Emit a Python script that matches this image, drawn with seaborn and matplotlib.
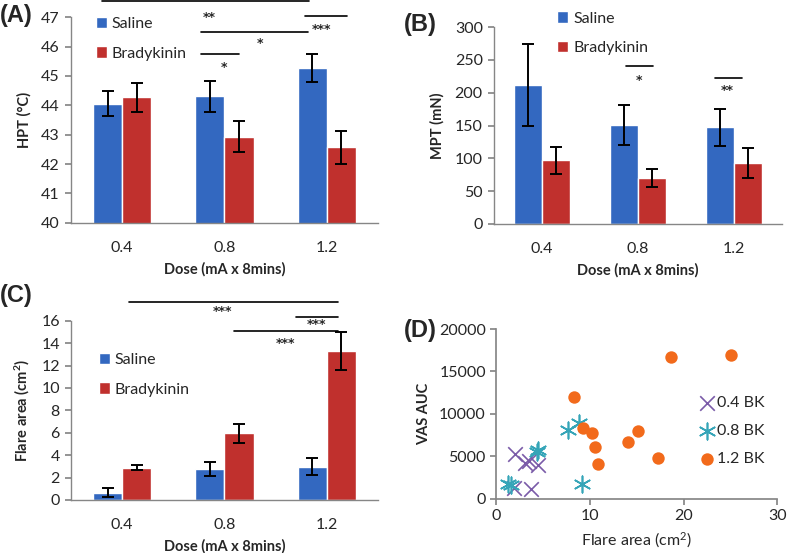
import matplotlib
matplotlib.use('Agg')
import matplotlib.pyplot as plt
import numpy as np
import pandas as pd
import seaborn as sns

# ---- data ----
doses = ['0.4', '0.8', '1.2']
groups = ['Saline', 'Bradykinin']

hpt_saline = [44.05, 44.30, 45.28]
hpt_saline_err = [0.43, 0.53, 0.47]
hpt_brady = [44.27, 42.93, 42.57]
hpt_brady_err = [0.49, 0.53, 0.57]

mpt_saline = [212, 151, 147]
mpt_saline_err = [63, 30, 28]
mpt_brady = [97, 70, 93]
mpt_brady_err = [21, 14, 23]

flare_saline = [0.65, 2.78, 2.98]
flare_saline_err = [0.40, 0.62, 0.75]
flare_brady = [2.89, 5.95, 13.30]
flare_brady_err = [0.25, 0.86, 1.72]

bk04_flare = [2.0, 3.1, 3.5, 4.5, 1.9, 3.7]
bk04_vas = [5300, 4200, 4400, 4000, 1250, 1100]
bk08_flare = [1.3, 1.6, 4.3, 4.5, 7.7, 8.8, 9.2]
bk08_vas = [1800, 1600, 5500, 5700, 8100, 8950, 1700]
bk12_flare = [8.3, 9.3, 10.2, 10.5, 10.85, 14.1, 15.1, 17.3, 18.7, 25.1]
bk12_vas = [12050, 8300, 7800, 6100, 4150, 6650, 7950, 4850, 16750, 16900]

# significance bars: (x_start, x_end, y_line, x_text, y_text, label)
sig_a = [(-0.2, 1.83, 47.54, 0.85, 47.0, '**'),
         (0.77, 1.82, 46.49, 1.35, 46.1, '*'),
         (0.77, 1.14, 45.74, 1.00, 45.3, '*'),
         (1.79, 2.20, 47.03, 1.95, 46.57, '***')]
sig_b = [(0.875, 1.16, 240, 1.01, 219, '*'),
         (1.80, 2.08, 222, 1.93, 203, '**')]
sig_c = [(0.07, 2.11, 17.7, 0.98, 16.85, '***'),
         (1.70, 2.11, 16.37, 1.90, 15.7, '***'),
         (1.09, 2.11, 15.09, 1.60, 14.0, '***')]

blue = '#3368C0'
red = '#C0302D'
purple = '#7A5BA8'
teal = '#35A5B8'
orange = '#F26A1B'
spine_col = '#868686'

sns.set_theme(style='white')
plt.rcParams['font.family'] = ['Lato', 'DejaVu Sans']
plt.rcParams['mathtext.default'] = 'regular'

fig = plt.figure(figsize=(7.89, 5.53), dpi=100)
ax_a = fig.add_axes([0.090, 0.597, 0.389, 0.372])
ax_b = fig.add_axes([0.626, 0.595, 0.365, 0.356])
ax_c = fig.add_axes([0.090, 0.096, 0.389, 0.324])
ax_d = fig.add_axes([0.629, 0.098, 0.356, 0.307])


def bar_panel(ax, sal, sal_err, bk, bk_err, width, ylim, yticks, ylabel,
              sigs, leg_anchor):
    df = pd.DataFrame({
        'Dose': doses * 2,
        'Group': [groups[0]] * 3 + [groups[1]] * 3,
        'Value': sal + bk,
    })
    sns.barplot(data=df, x='Dose', y='Value', hue='Group', order=doses,
                hue_order=groups, palette=[blue, red], width=width,
                saturation=1, errorbar=None, ax=ax)
    # error bars at the bar centres the library placed
    bars = [p for p in ax.patches if p.get_width() > 0][:6]
    errs = sal_err + bk_err
    vals = sal + bk
    xs = [b.get_x() + b.get_width() / 2 for b in bars]
    ax.errorbar(xs, vals, yerr=errs, fmt='none', ecolor='black',
                elinewidth=1.4, capsize=4, capthick=1.4)
    ax.set_xlim(-0.5, 2.5)
    ax.set_ylim(*ylim)
    ax.set_yticks(yticks)
    ax.set_xlabel('Dose (mA x 8mins)', fontsize=10.5, fontweight='bold',
                  labelpad=5)
    ax.set_ylabel(ylabel, fontsize=10.5, fontweight='bold', labelpad=7)
    ax.tick_params(axis='y', which='both', left=True, length=4,
                   color=spine_col, labelsize=11.5, pad=4)
    ax.tick_params(axis='x', bottom=False, labelsize=11.5, pad=7)
    for s in ['top', 'right']:
        ax.spines[s].set_visible(False)
    for s in ['left', 'bottom']:
        ax.spines[s].set_color(spine_col)
        ax.spines[s].set_linewidth(1.0)
    for x0, x1, yl, xt, yt, lab in sigs:
        ax.plot([x0, x1], [yl, yl], color='black', lw=1.2, clip_on=False)
        ax.text(xt, yt, lab, ha='center', va='center', fontsize=9,
                fontweight='bold', family='DejaVu Sans', clip_on=False)
    sns.move_legend(ax, 'upper left', bbox_to_anchor=leg_anchor,
                    frameon=False, title=None, fontsize=11.5,
                    handlelength=0.7, handleheight=0.7, handletextpad=0.3,
                    labelspacing=0.95, borderaxespad=0, borderpad=0)


bar_panel(ax_a, hpt_saline, hpt_saline_err, hpt_brady, hpt_brady_err, 0.57,
          (40, 47), np.arange(40, 48, 1), 'HPT (°C)', sig_a, (0.08, 1.0))
bar_panel(ax_b, mpt_saline, mpt_saline_err, mpt_brady, mpt_brady_err, 0.58,
          (0, 300), np.arange(0, 301, 50), 'MPT (mN)', sig_b, (0.22, 1.08))
bar_panel(ax_c, flare_saline, flare_saline_err, flare_brady, flare_brady_err,
          0.57, (0, 16), np.arange(0, 17, 2), 'Flare area (cm$^2$)', sig_c,
          (0.09, 0.82))

# ---- panel D scatter ----
sns.scatterplot(x=bk04_flare, y=bk04_vas, marker='x', color=purple, s=110,
                linewidth=1.2, ax=ax_d, label='0.4 BK')
sns.scatterplot(x=bk08_flare, y=bk08_vas, marker=(6, 2, 0), color=teal,
                s=140, linewidth=1.2, ax=ax_d, label='0.8 BK')
sns.scatterplot(x=bk12_flare, y=bk12_vas, marker='o', color=orange, s=80,
                linewidth=0, ax=ax_d, label='1.2 BK')
ax_d.set_xlim(0, 30)
ax_d.set_ylim(0, 20000)
ax_d.set_xticks([0, 10, 20, 30])
ax_d.set_yticks(np.arange(0, 20001, 5000))
ax_d.set_xlabel('Flare area (cm$^2$)', fontsize=11.5, labelpad=5)
ax_d.set_ylabel('VAS AUC', fontsize=10.5, fontweight='bold', labelpad=6)
ax_d.tick_params(axis='both', length=4, color=spine_col, labelsize=11.5,
                 left=True, bottom=True)
for s in ['top', 'right']:
    ax_d.spines[s].set_visible(False)
for s in ['left', 'bottom']:
    ax_d.spines[s].set_color(spine_col)
ax_d.legend(loc='center left', bbox_to_anchor=(0.70, 0.40), frameon=False,
            fontsize=11.5, handletextpad=0.1, labelspacing=0.85,
            handlelength=1.0, borderaxespad=0)

# panel letters
for lab, x, y in [('(A)', 0.0, 0.972), ('(B)', 0.512, 0.955),
                  ('(C)', 0.0, 0.465), ('(D)', 0.512, 0.403)]:
    fig.text(x, y, lab, fontsize=17, fontweight='bold',
             family='Liberation Sans', va='center', ha='left')

fig.savefig('out.png', dpi=100)
